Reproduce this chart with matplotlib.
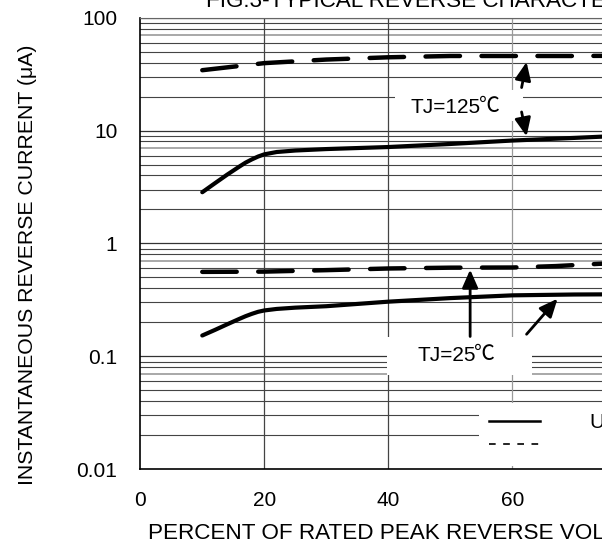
import matplotlib
matplotlib.use('Agg')
import matplotlib.pyplot as plt
from matplotlib.lines import Line2D

plt.rcParams['font.family'] = ['Liberation Sans', 'Noto Sans CJK SC']

# --- data ---
pct_125_dash = [10, 20, 30, 40, 50, 60, 70, 80, 90, 100]
cur_125_dash = [34.2, 39.5, 42.5, 44.5, 45.7, 45.7, 45.7, 46.0, 46.3, 46.5]

pct_125_solid = [10, 12, 14, 16, 17, 18, 19, 20, 22, 25, 30, 40, 50, 60, 70, 75, 80, 90, 100]
cur_125_solid = [2.84, 3.4, 4.06, 4.8, 5.2, 5.55, 5.88, 6.15, 6.45, 6.65, 6.85, 7.14, 7.6, 8.15,
                 8.6, 8.85, 9.1, 9.5, 9.9]

pct_25_dash = [10, 20, 30, 40, 50, 60, 67, 74, 80, 90, 100]
cur_25_dash = [0.56, 0.563, 0.58, 0.60, 0.61, 0.612, 0.63, 0.66, 0.68, 0.71, 0.74]

pct_25_solid = [10, 12, 14, 16, 17, 18, 19, 20, 22, 25, 30, 40, 50, 60, 70, 75, 80, 90, 100]
cur_25_solid = [0.153, 0.171, 0.192, 0.215, 0.227, 0.238, 0.248, 0.255, 0.263, 0.27, 0.278,
                0.305, 0.328, 0.347, 0.353, 0.354, 0.355, 0.357, 0.36]

x_ticks = [0, 20, 40, 60, 80, 100]
y_ticks = [0.01, 0.1, 1, 10, 100]
y_tick_labels = ['0.01', '0.1', '1', '10', '100']

FS = 15
CJK = ['Noto Sans CJK SC']

fig = plt.figure(figsize=(6.02, 5.46), dpi=100)
# axes run past the right edge of the picture (reference is a crop)
ax = fig.add_axes([0.2330, 0.1405, 1.030, 0.8273])
ax.set_yscale('log')
ax.set_xlim(0, 100)
ax.set_ylim(0.01, 100)

# grid
for d in [0.01, 0.1, 1, 10]:
    for m in range(2, 10):
        if m == 7:
            ax.axhline(d * m, color='#a8a8a8', lw=1.4, zorder=0.5)
        else:
            ax.axhline(d * m, color='#444444', lw=0.8, zorder=0.5)
    ax.axhline(d * 10, color='#333333', lw=0.9, zorder=0.5)
for xv in x_ticks[1:-1]:
    ax.axvline(xv, color='#999999' if xv == 60 else '#444444', lw=0.9, zorder=0.5)

dash_kw = dict(color='black', lw=3.2, dashes=(7.75, 4.84), dash_capstyle='round', zorder=3)
solid_kw = dict(color='black', lw=3.0, solid_capstyle='round', solid_joinstyle='round', zorder=3)
ax.plot(pct_125_dash, cur_125_dash, **dash_kw)
ax.plot(pct_125_solid, cur_125_solid, **solid_kw)
ax.plot(pct_25_dash, cur_25_dash, **dash_kw)
ax.plot(pct_25_solid, cur_25_solid, **solid_kw)


def tj_label(x_box, y_box, n_spaces, pad, x_txt, y_txt, temp):
    # white box that knocks out the grid behind the label
    ax.text(x_box, y_box, ' ' * n_spaces, fontsize=FS, ha='center', va='center', zorder=4,
            bbox=dict(boxstyle='square,pad=%s' % pad, fc='white', ec='none'))
    t = ax.text(x_txt, y_txt, 'TJ=' + temp, fontsize=FS, ha='right', va='center', zorder=5)
    ax.annotate('℃', xy=(1, 0), xycoords=t, xytext=(-1.2, 3.2), textcoords='offset points',
                fontsize=FS, family=CJK, ha='left', va='baseline', zorder=5)


tj_label(51.4, 16.7, 20, 0.3, 54.95, 16.1, '125')
tj_label(51.5, 0.1, 22, 0.45, 54.15, 0.102, '25')

arrow = dict(arrowstyle='-|>,head_length=0.5,head_width=0.22', mutation_scale=22,
             lw=2, color='black', shrinkA=0, shrinkB=0)
ax.annotate('', xy=(62.3, 40.4), xytext=(61.5, 24.0), arrowprops=arrow, zorder=5)
ax.annotate('', xy=(62.3, 8.89), xytext=(61.5, 14.6), arrowprops=arrow, zorder=5)
ax.annotate('', xy=(53.2, 0.586), xytext=(53.2, 0.150), arrowprops=arrow, zorder=5)
ax.annotate('', xy=(67.3, 0.324), xytext=(62.3, 0.157), arrowprops=arrow, zorder=5)

# legend
handles = [Line2D([], [], color='black', lw=1.8),
           Line2D([], [], color='black', lw=1.2, dashes=(4, 4.5))]
leg = ax.legend(handles, ['UF4001-UF4004', '      UF4005-UF4007'],
                loc='upper left', bbox_to_anchor=(0.5456, 0.1467), borderaxespad=0,
                fontsize=FS, frameon=True, fancybox=False, framealpha=1,
                edgecolor='none', facecolor='white', borderpad=0.5,
                handlelength=2.45, handletextpad=2.35, labelspacing=0.2)
leg.set_zorder(4)

ax.set_xticks(x_ticks)
ax.set_yticks(y_ticks)
ax.set_yticklabels(y_tick_labels)
ax.yaxis.set_minor_locator(matplotlib.ticker.NullLocator())
ax.tick_params(axis='both', length=0, labelsize=FS)
ax.tick_params(axis='y', pad=16.5)
ax.tick_params(axis='x', pad=15.5)

for s in ['left', 'bottom']:
    ax.spines[s].set_color('black')
    ax.spines[s].set_linewidth(1.2)
ax.spines['top'].set_color('#666666')

ax.set_xlabel('PERCENT OF RATED PEAK REVERSE VOLTAGE (%)', fontsize=16.2, loc='left')
ax.xaxis.set_label_coords(0.0129, -0.1184)
ax.set_ylabel('INSTANTANEOUS REVERSE CURRENT (μA)', fontsize=15.3)
ax.yaxis.set_label_coords(-0.166, 0.4523)
ax.set_title('FIG.3-TYPICAL REVERSE CHARACTERISTICS', fontsize=16.2, pad=7.5)

fig.savefig('out.png', dpi=100)
